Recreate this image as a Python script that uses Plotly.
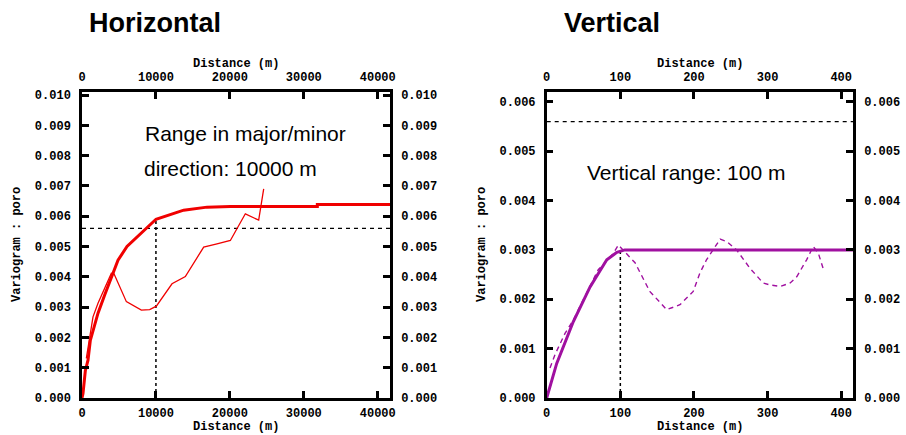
import plotly.graph_objects as go

# ---------------- data ----------------
# Horizontal panel
h_model_x = [0, 135, 451, 812, 1127, 1488, 2029, 2164, 3066, 3382, 3969, 4734, 4870, 6087, 7891, 10010,
             13752, 16909, 20066, 31830, 31831, 41660]
h_model_y = [0, 0.00015, 0.0009, 0.00125, 0.0019, 0.00219, 0.0027, 0.0028, 0.0034, 0.0036, 0.00395,
             0.00448, 0.00455, 0.0050, 0.0054, 0.0059, 0.0062, 0.0063, 0.00632, 0.00632, 0.00639, 0.00639]
h_exp_x = [586, 1488, 2164, 3969, 4329, 6000, 8027, 9153, 10055, 12174, 13978, 16458, 18262, 20066,
           22094, 23898, 24575]
h_exp_y = [0.00131, 0.00268, 0.00313, 0.00412, 0.0041, 0.00318, 0.0029, 0.00292, 0.00303, 0.00377,
           0.00401, 0.00498, 0.00509, 0.0052, 0.00608, 0.00587, 0.0069]
h_sill = 0.0056
h_range = 10000
h_range_val = 0.0059

# Vertical panel
v_model_x = [0, 13.6, 36.2, 58.9, 81.6, 95.2, 106, 416]
v_model_y = [0, 0.0007, 0.00155, 0.00225, 0.0028, 0.00295, 0.003, 0.003]
v_exp_x = [4.5, 11.3, 24.9, 36.2, 50, 70, 90, 97.3, 120, 140, 163, 181, 199, 208, 217, 235.6, 244.6,
           258, 276, 294, 303.5, 317, 330.7, 339.8, 353, 362, 369, 376]
v_exp_y = [0.00061, 0.00088, 0.00131, 0.00158, 0.0020, 0.0026, 0.00292, 0.0031, 0.00274, 0.00216,
           0.00179, 0.00189, 0.00216, 0.00253, 0.0028, 0.00322, 0.00317, 0.0030, 0.00263, 0.00233,
           0.00229, 0.00226, 0.00233, 0.00246, 0.0028, 0.00307, 0.00293, 0.0026]
v_sill = 0.0056
v_range = 100
v_range_val = 0.003

h_xticks = [0, 10000, 20000, 30000, 40000]
h_yticks = [0, 0.001, 0.002, 0.003, 0.004, 0.005, 0.006, 0.007, 0.008, 0.009, 0.010]
v_xticks = [0, 100, 200, 300, 400]
v_yticks = [0, 0.001, 0.002, 0.003, 0.004, 0.005, 0.006]

# ---------------- figure ----------------
W, H = 906, 435
RED = "#f00000"
PURPLE = "#a010a0"
MONO = "Liberation Mono, Courier New, monospace"
SANS = "Liberation Sans, Arial, sans-serif"

fig = go.Figure()

# Left panel
fig.add_trace(go.Scatter(x=[0, 41660], y=[h_sill, h_sill], mode="lines",
                         line=dict(color="black", width=1.2, dash="4px,4px"), xaxis="x", yaxis="y"))
fig.add_trace(go.Scatter(x=[h_range, h_range], y=[0, h_range_val], mode="lines",
                         line=dict(color="black", width=1.5, dash="dot"), xaxis="x", yaxis="y"))
fig.add_trace(go.Scatter(x=h_exp_x, y=h_exp_y, mode="lines",
                         line=dict(color=RED, width=1.3), xaxis="x", yaxis="y"))
fig.add_trace(go.Scatter(x=h_model_x, y=h_model_y, mode="lines",
                         line=dict(color=RED, width=3), xaxis="x", yaxis="y"))
fig.add_trace(go.Scatter(x=[0], y=[0], mode="markers", marker=dict(opacity=0),
                         hoverinfo="skip", xaxis="x2", yaxis="y2"))

# Right panel
fig.add_trace(go.Scatter(x=[0, 416], y=[v_sill, v_sill], mode="lines",
                         line=dict(color="black", width=1.2, dash="4px,4px"), xaxis="x3", yaxis="y3"))
fig.add_trace(go.Scatter(x=[v_range, v_range], y=[0, v_range_val], mode="lines",
                         line=dict(color="black", width=1.5, dash="dot"), xaxis="x3", yaxis="y3"))
fig.add_trace(go.Scatter(x=v_exp_x, y=v_exp_y, mode="lines",
                         line=dict(color=PURPLE, width=1.4, dash="5px,4px"), xaxis="x3", yaxis="y3"))
fig.add_trace(go.Scatter(x=v_model_x, y=v_model_y, mode="lines",
                         line=dict(color=PURPLE, width=3), xaxis="x3", yaxis="y3"))
fig.add_trace(go.Scatter(x=[0], y=[0], mode="markers", marker=dict(opacity=0),
                         hoverinfo="skip", xaxis="x4", yaxis="y4"))

ydom = [37 / H, 343 / H]
ldom = [82 / W, 390 / W]
rdom = [546.7 / W, 853 / W]

common = dict(showline=True, linecolor="black", linewidth=2.5, ticks="inside", ticklen=7,
              tickwidth=2.5, tickcolor="black", showgrid=False, zeroline=False, automargin=False,
              tickfont=dict(family=MONO, size=12, color="black", weight="bold"), fixedrange=True)

fig.update_layout(
    width=W, height=H, margin=dict(l=0, r=0, t=0, b=0, autoexpand=False),
    paper_bgcolor="white", plot_bgcolor="white", showlegend=False,
    xaxis=dict(domain=ldom, range=[0, 41660], tickvals=h_xticks, tickformat="d", anchor="y",
               side="bottom", ticklabelstandoff=2, **common),
    yaxis=dict(domain=ydom, range=[0, 0.0101], tickvals=h_yticks, tickformat=".3f", anchor="x",
               side="left", ticklabelstandoff=6, **common),
    xaxis2=dict(domain=ldom, range=[0, 41660], tickvals=h_xticks, tickformat="d", anchor="y",
                overlaying="x", side="top", ticklabelstandoff=3, **common),
    yaxis2=dict(domain=ydom, range=[0, 0.0101], tickvals=h_yticks, tickformat=".3f", anchor="x",
                overlaying="y", side="right", ticklabelstandoff=6, **common),
    xaxis3=dict(domain=rdom, range=[0, 416], tickvals=v_xticks, tickformat="d", anchor="y3",
                side="bottom", ticklabelstandoff=2, **common),
    yaxis3=dict(domain=ydom, range=[0, 0.0062], tickvals=v_yticks, tickformat=".3f", anchor="x3",
                side="left", ticklabelstandoff=6, **common),
    xaxis4=dict(domain=rdom, range=[0, 416], tickvals=v_xticks, tickformat="d", anchor="y3",
                overlaying="x3", side="top", ticklabelstandoff=3, **common),
    yaxis4=dict(domain=ydom, range=[0, 0.0062], tickvals=v_yticks, tickformat=".3f", anchor="x3",
                overlaying="y3", side="right", ticklabelstandoff=6, **common),
)


def ann(text, px, py, size, family, xanchor="center", bold=False, angle=0):
    fig.add_annotation(text=f"<b>{text}</b>" if bold else text, x=px / W, y=1 - py / H,
                       xref="paper", yref="paper", xanchor=xanchor, yanchor="middle",
                       showarrow=False, textangle=angle,
                       font=dict(family=family, size=size, color="black"))


ann("Horizontal", 155, 23, 27, SANS, bold=True)
ann("Vertical", 612, 23, 27, SANS, bold=True)
for cx in (236, 700):
    ann("Distance (m)", cx, 64, 12, MONO, bold=True)
    ann("Distance (m)", cx, 427, 12, MONO, bold=True)
ann("Variogram : poro", 17, 245, 12, MONO, angle=-90, bold=True)
ann("Variogram : poro", 482, 245, 12, MONO, angle=-90, bold=True)
ann("Range in major/minor", 143, 133, 21, SANS, xanchor="left")
ann("direction: 10000 m", 142, 168, 21, SANS, xanchor="left")
ann("Vertical range: 100 m", 585, 172, 21, SANS, xanchor="left")

fig.write_html("out.html", config={"displayModeBar": False},
               post_script="document.body.style.margin='0px';document.body.style.overflow='hidden';")
